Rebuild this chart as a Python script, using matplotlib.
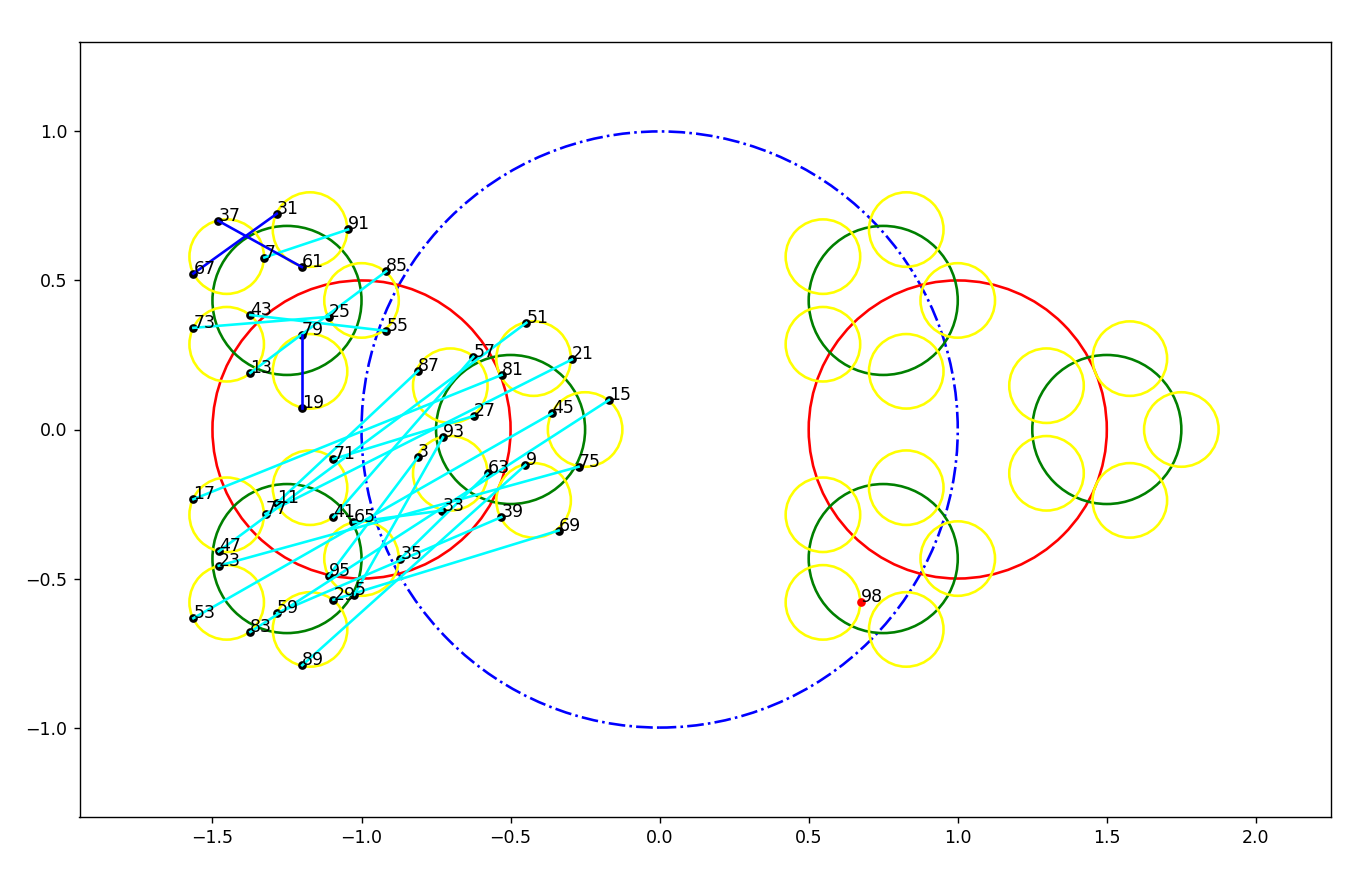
import numpy as np
import matplotlib
matplotlib.use("Agg")
import matplotlib.pyplot as plt
from matplotlib.patches import Circle

# ---- circle structure ----
unit_center = (0.0, 0.0)
unit_radius = 1.0
red_centers = [(-1.0, 0.0), (1.0, 0.0)]
red_radius = 0.5
green_centers = [(-1.25, 0.433), (-1.25, -0.433), (-0.5, 0.0),
                 (0.75, 0.433), (0.75, -0.433), (1.5, 0.0)]
green_radius = 0.25
yellow_angles_deg = [0, 72, 144, 216, 288]
yellow_distance = 0.25
yellow_radius = 0.125

# ---- labelled points ----
point_labels = [37, 31, 91, 7, 61, 67, 85, 43, 25, 73, 79, 55, 13, 19,
                87, 57, 81, 21, 27, 45, 93, 3, 63, 9, 75, 33, 51, 15,
                39, 69, 35, 71, 17, 11, 77, 41, 65, 47, 23, 95, 29, 5,
                59, 53, 83, 89]
point_x = [-1.480, -1.284, -1.045, -1.326, -1.200, -1.564, -0.917, -1.373,
           -1.110, -1.564, -1.200, -0.917, -1.373, -1.200,
           -0.810, -0.625, -0.530, -0.294, -0.622, -0.361, -0.727, -0.811,
           -0.577, -0.450, -0.272, -0.729, -0.447, -0.170,
           -0.531, -0.339, -0.870, -1.094, -1.564, -1.284, -1.322, -1.094,
           -1.027, -1.479, -1.479, -1.110, -1.094, -1.024,
           -1.283, -1.564, -1.373, -1.199]
point_y = [0.700, 0.724, 0.671, 0.577, 0.545, 0.523, 0.531, 0.384,
           0.378, 0.341, 0.317, 0.331, 0.190, 0.073,
           0.197, 0.244, 0.183, 0.235, 0.046, 0.054, -0.026, -0.093,
           -0.147, -0.119, -0.125, -0.272, 0.358, 0.099,
           -0.294, -0.339, -0.434, -0.099, -0.234, -0.247, -0.283, -0.294,
           -0.311, -0.409, -0.457, -0.491, -0.571, -0.554,
           -0.616, -0.633, -0.679, -0.791]

special_label = 98
special_x = 0.674
special_y = -0.580

# ---- connections (pairs of labels) ----
blue_pairs = [(37, 61), (31, 67), (19, 79)]
cyan_pairs = [(3, 95), (5, 93), (7, 91), (9, 89), (11, 87), (13, 85),
              (15, 83), (17, 81), (21, 77), (23, 75), (25, 73), (27, 71),
              (29, 69), (33, 65), (35, 63), (39, 59), (41, 57), (43, 55),
              (45, 53), (47, 51)]

fig = plt.figure(figsize=(1362 / 125, 875 / 125), dpi=125)
ax = fig.add_axes([79.5 / 1362, 58 / 875, 1251.5 / 1362, 775 / 875])

ax.add_patch(Circle(unit_center, unit_radius, fill=False, ec='blue',
                    ls='-.', lw=1.5, zorder=1))
for c in red_centers:
    ax.add_patch(Circle(c, red_radius, fill=False, ec='red', lw=1.5, zorder=1))
for c in green_centers:
    ax.add_patch(Circle(c, green_radius, fill=False, ec='green', lw=1.5, zorder=1))
    for a in yellow_angles_deg:
        t = np.deg2rad(a)
        yc = (c[0] + yellow_distance * np.cos(t), c[1] + yellow_distance * np.sin(t))
        ax.add_patch(Circle(yc, yellow_radius, fill=False, ec='yellow', lw=1.5, zorder=1))

ax.plot(point_x, point_y, 'o', color='black', ms=4, ls='none', zorder=2)
ax.plot([special_x], [special_y], 'o', color='red', ms=4, ls='none', zorder=2)

pos = {lab: (x, y) for lab, x, y in zip(point_labels, point_x, point_y)}
for a, b in cyan_pairs:
    ax.plot([pos[a][0], pos[b][0]], [pos[a][1], pos[b][1]], color='cyan', lw=1.5, zorder=3)
for a, b in blue_pairs:
    ax.plot([pos[a][0], pos[b][0]], [pos[a][1], pos[b][1]], color='blue', lw=1.5, zorder=3)

for lab, x, y in zip(point_labels, point_x, point_y):
    ax.text(x, y, str(lab), fontsize=10, zorder=4)
ax.text(special_x, special_y, str(special_label), fontsize=10, zorder=4)

ax.set_xlim(-1.946, 2.252)
ax.set_ylim(-1.3, 1.3)
ax.set_xticks([-1.5, -1.0, -0.5, 0.0, 0.5, 1.0, 1.5, 2.0])
ax.set_yticks([-1.0, -0.5, 0.0, 0.5, 1.0])

fig.savefig("out.png", dpi=125)
